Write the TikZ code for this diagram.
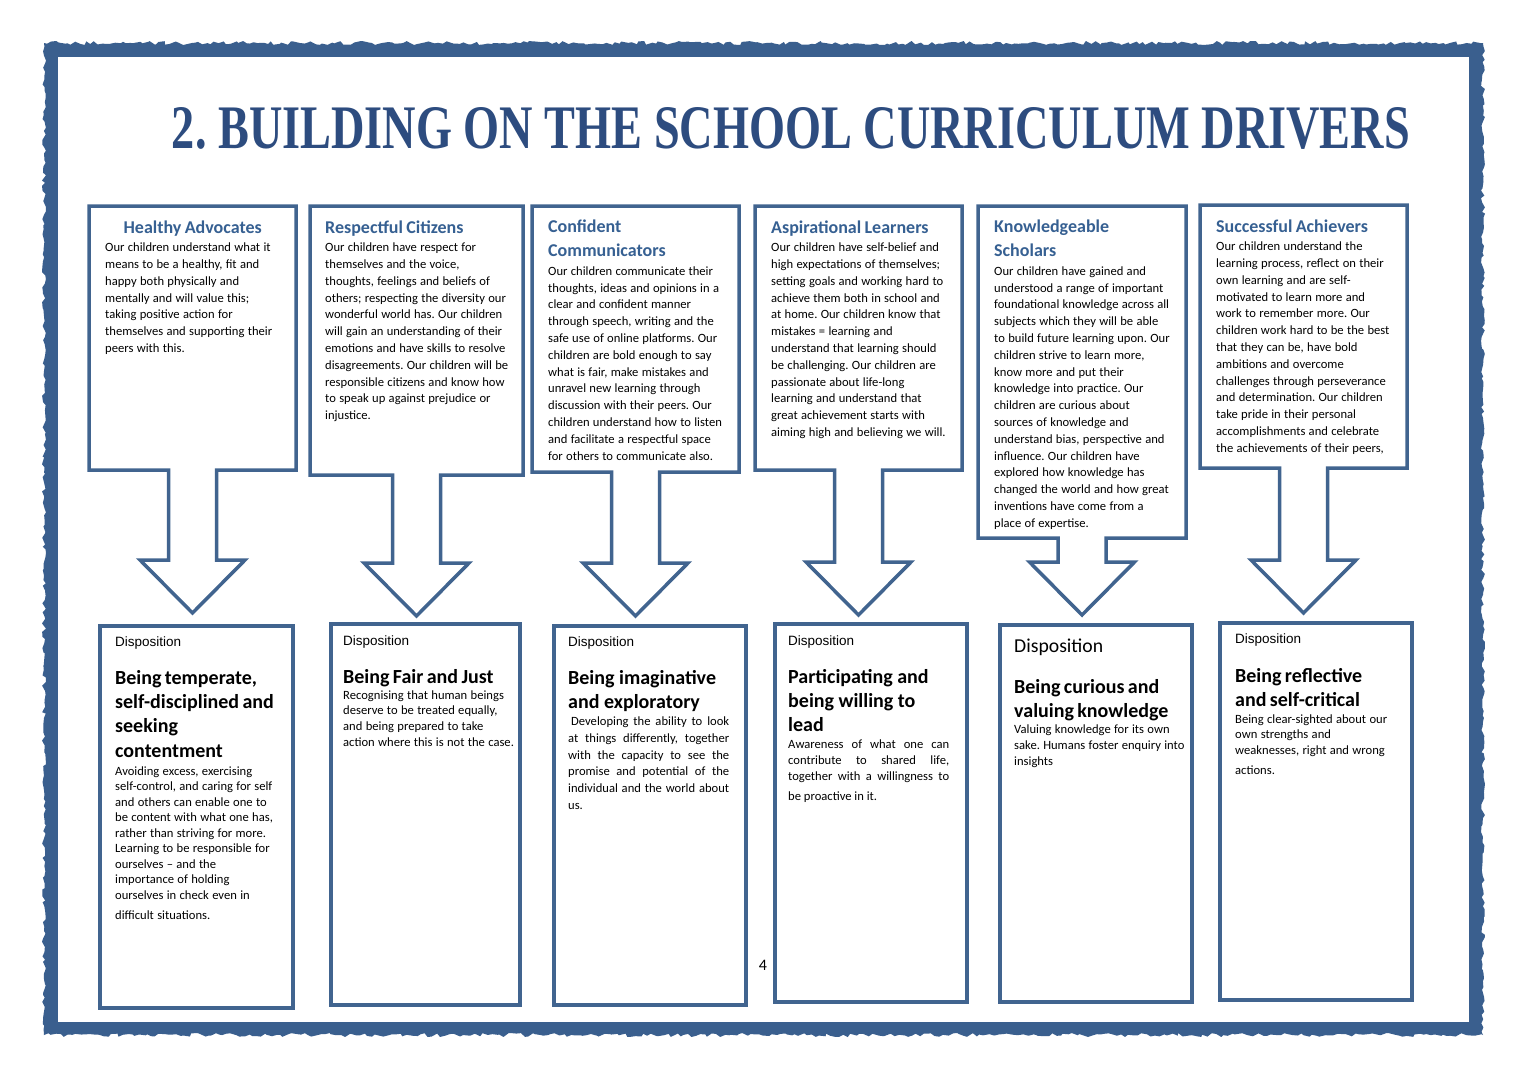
\documentclass[tikz,border=0pt]{standalone}
\usepackage{fontspec}
\setmainfont{Carlito}
\newfontfamily\arialfont{Liberation Sans}
\newfontfamily\titlefont{Liberation Serif}
\usepackage{graphicx}
\usetikzlibrary{decorations.pathmorphing}
\usepackage{xcolor}
\frenchspacing

\definecolor{frameblue}{HTML}{3A5F8E}
\definecolor{boxblue}{HTML}{41648F}
\definecolor{headblue}{HTML}{366092}
\definecolor{titleblue}{HTML}{2D4C7F}

\newcommand\driverhead{\fontsize{18}{24}\selectfont\bfseries}
\newcommand\driverbody[1][16.8]{\fontsize{12.6}{#1}\selectfont}
\newcommand\disphead{\fontsize{20}{24.4}\selectfont\bfseries}

% box with a down arrow: left, top, right, bottom, arrow head y
\newcommand\drivershape[5]{%
  \draw[driver] (#1,#2) -- (#3,#2) -- (#3,#4)
    -- ({(#1+#3)/2+24},#4) -- ({(#1+#3)/2+24},#5) -- ({(#1+#3)/2+52.5},#5)
    -- ({(#1+#3)/2},{#5+53}) -- ({(#1+#3)/2-52.5},#5) -- ({(#1+#3)/2-24},#5)
    -- ({(#1+#3)/2-24},#4) -- (#1,#4) -- cycle;}

\begin{document}
\begin{tikzpicture}[x=1pt, y=-1pt,
    driver/.style={draw=boxblue, line width=3.5pt, line join=miter, fill=white},
    disposition box/.style={draw=boxblue, line width=4pt, anchor=north west, inner sep=0pt},
    driver text/.style={anchor=base west, align=left, inner sep=0pt, text width=#1},
    driver text/.default=195,
    just text/.style={anchor=base west, align=justify, inner sep=0pt, text width=161},
    disp label/.style={anchor=base west, inner sep=0pt, font=\arialfont\fontsize{13.5}{16}\selectfont}
]
    \useasboundingbox (0,0) rectangle (1527,1080);
    \fill[white] (0,0) rectangle (1527,1080);

    % page frame
    \pgfmathsetseed{7}
    \fill[frameblue, decorate, decoration={random steps, segment length=4pt, amplitude=2pt}]
        (44,43) rectangle (1483,1035);
    \fill[white] (58,57) rectangle (1469,1022);

    \node (title) [inner sep=0pt, text=titleblue] at (791,128.5)
    {
        \resizebox{1238pt}{41pt}{\titlefont\bfseries 2. BUILDING ON THE SCHOOL CURRICULUM DRIVERS}
    };

    % the six drivers
    \drivershape{89}{206}{296}{470}{560}
    \drivershape{310}{206}{523}{475}{563}
    \drivershape{532}{206}{739}{472}{563}
    \drivershape{755}{206}{962}{470}{562}
    \drivershape{978}{206}{1186}{538}{562}
    \drivershape{1200}{205}{1407}{468}{560}

    \node (healthy_advocates) [driver text=175] at (105,233)
    {
        {\driverhead\centering\textcolor{headblue}{Healthy Advocates}\par}
        \vspace{1.8pt}
        \driverbody Our children understand what it\\
        means to be a healthy, fit and\\
        happy both physically and\\
        mentally and will value this;\\
        taking positive action for\\
        themselves and supporting their\\
        peers with this.\par
    };
    \node (respectful_citizens) [driver text] at (325,233)
    {
        {\driverhead\textcolor{headblue}{Respectful Citizens}\par}
        \vspace{1.8pt}
        \driverbody Our children have respect for\\
        themselves and the voice,\\
        thoughts, feelings and beliefs of\\
        others; respecting the diversity our\\
        wonderful world has. Our children\\
        will gain an understanding of their\\
        emotions and have skills to resolve\\
        disagreements. Our children will be\\
        responsible citizens and know how\\
        to speak up against prejudice or\\
        injustice.\par
    };
    \node (confident_communicators) [driver text] at (548,232)
    {
        {\driverhead\textcolor{headblue}{Confident}\\\textcolor{headblue}{Communicators}\par}
        \vspace{2.5pt}
        \driverbody Our children communicate their\\
        thoughts, ideas and opinions in a\\
        clear and confident manner\\
        through speech, writing and the\\
        safe use of online platforms. Our\\
        children are bold enough to say\\
        what is fair, make mistakes and\\
        unravel new learning through\\
        discussion with their peers. Our\\
        children understand how to listen\\
        and facilitate a respectful space\\
        for others to communicate also.\par
    };
    \node (aspirational_learners) [driver text] at (771,233)
    {
        {\driverhead\textcolor{headblue}{Aspirational Learners}\par}
        \vspace{1.8pt}
        \driverbody Our children have self-belief and\\
        high expectations of themselves;\\
        setting goals and working hard to\\
        achieve them both in school and\\
        at home. Our children know that\\
        mistakes = learning and\\
        understand that learning should\\
        be challenging. Our children are\\
        passionate about life-long\\
        learning and understand that\\
        great achievement starts with\\
        aiming high and believing we will.\par
    };
    \node (knowledgeable_scholars) [driver text] at (994,232)
    {
        {\driverhead\textcolor{headblue}{Knowledgeable}\\\textcolor{headblue}{Scholars}\par}
        \vspace{2.5pt}
        \driverbody Our children have gained and\\
        understood a range of important\\
        foundational knowledge across all\\
        subjects which they will be able\\
        to build future learning upon. Our\\
        children strive to learn more,\\
        know more and put their\\
        knowledge into practice. Our\\
        children are curious about\\
        sources of knowledge and\\
        understand bias, perspective and\\
        influence. Our children have\\
        explored how knowledge has\\
        changed the world and how great\\
        inventions have come from a\\
        place of expertise.\par
    };
    \node (successful_achievers) [driver text] at (1216,232)
    {
        {\driverhead\textcolor{headblue}{Successful Achievers}\par}
        \vspace{1.8pt}
        \driverbody Our children understand the\\
        learning process, reflect on their\\
        own learning and are self-\\
        motivated to learn more and\\
        work to remember more. Our\\
        children work hard to be the best\\
        that they can be, have bold\\
        ambitions and overcome\\
        challenges through perseverance\\
        and determination. Our children\\
        take pride in their personal\\
        accomplishments and celebrate\\
        the achievements of their peers,\par
    };

    % the six dispositions
    \node (temperate_box) [disposition box, minimum width=193, minimum height=382] at (98,624) {};
    \node (fair_box) [disposition box, minimum width=189, minimum height=381] at (329,622) {};
    \node (imaginative_box) [disposition box, minimum width=192, minimum height=379] at (552,624) {};
    \node (participating_box) [disposition box, minimum width=192, minimum height=378] at (773,622) {};
    \node (curious_box) [disposition box, minimum width=192, minimum height=377] at (998,623) {};
    \node (reflective_box) [disposition box, minimum width=192, minimum height=377] at (1218,621) {};

    \node (temperate_label) [disp label] at (115,646) {Disposition};
    \node (fair_label) [disp label] at (343,645) {Disposition};
    \node (imaginative_label) [disp label] at (568,646) {Disposition};
    \node (participating_label) [disp label] at (788,645) {Disposition};
    \node (curious_label) [disp label, font=\fontsize{19.7}{22}\selectfont] at (1014,652) {Disposition};
    \node (reflective_label) [disp label] at (1235,643) {Disposition};

    \node (temperate_text) [driver text=178] at (115,684)
    {
        {\disphead Being temperate,\\ self-disciplined and\\ seeking\\ contentment\par}
        \vspace{2.5pt}
        \driverbody[15.5] Avoiding excess, exercising\\
        self-control, and caring for self\\
        and others can enable one to\\
        be content with what one has,\\
        rather than striving for more.\\
        Learning to be responsible for\\
        ourselves -- and the\\
        importance of holding\\
        ourselves in check even in\\[5pt]
        difficult situations.\par
    };
    \node (fair_text) [driver text=178] at (343,683)
    {
        {\disphead Being Fair and Just\par}
        \vspace{0.3pt}
        \driverbody[15.7] Recognising that human beings\\
        deserve to be treated equally,\\
        and being prepared to take\\
        action where this is not the case.\par
    };
    \node (imaginative_text) [just text] at (568,684)
    {
        {\disphead Being imaginative\\ and exploratory\par}
        \vspace{0.2pt}
        \driverbody\hspace{3pt}Developing the ability to look\linebreak
        at things differently, together\linebreak
        with the capacity to see the\linebreak
        promise and potential of the\linebreak
        individual and the world about\linebreak
        us.\par
    };
    \node (participating_text) [just text] at (788,683)
    {
        {\disphead Participating and\\ being willing to\\ lead\par}
        \vspace{1pt}
        \driverbody[16] Awareness of what one can\linebreak
        contribute to shared life,\linebreak
        together with a willingness to\vadjust{\vskip 4pt}\linebreak
        be proactive in it.\par
    };
    \node (curious_text) [driver text=178] at (1014,693)
    {
        {\disphead Being curious and\\ valuing knowledge\par}
        \driverbody[16] Valuing knowledge for its own\\
        sake. Humans foster enquiry into\\
        insights\par
    };
    \node (reflective_text) [driver text=178] at (1235,682)
    {
        {\disphead Being reflective\\ and self-critical\par}
        \vspace{1.5pt}
        \driverbody[15.5] Being clear-sighted about our\\
        own strengths and\\
        weaknesses, right and wrong\\[4.5pt]
        actions.\par
    };

    \node (page_number) [inner sep=0pt, font=\fontsize{16}{18}\selectfont] at (763,965) {4};
\end{tikzpicture}
\end{document}
